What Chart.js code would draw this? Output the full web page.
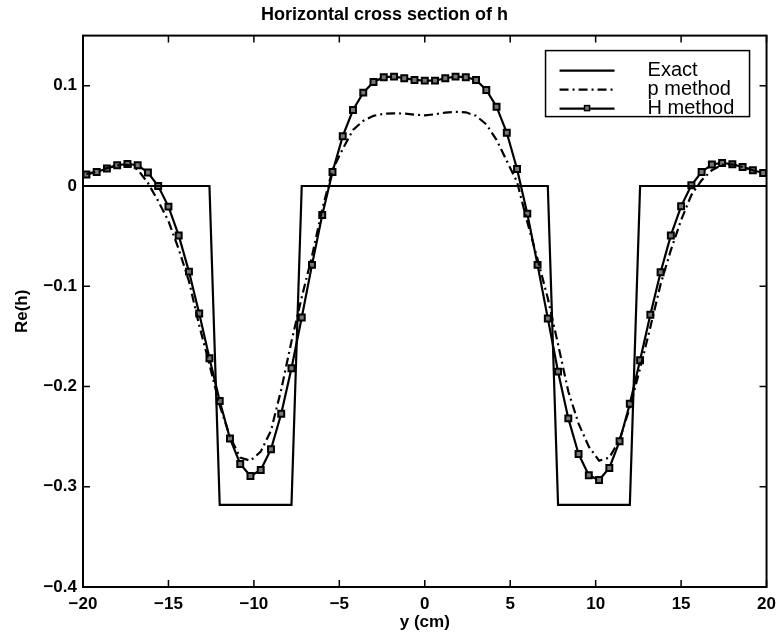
<!DOCTYPE html>
<html>
<head>
<meta charset="utf-8">
<script src="https://cdn.jsdelivr.net/npm/chart.js@4.4.1/dist/chart.umd.min.js"></script>
<style>
  html, body { margin: 0; padding: 0; background: #fff; }
  #wrap { width: 783px; height: 635px; }
</style>
</head>
<body>
<div id="wrap"><canvas id="crossChart"></canvas></div>
<script>
// sample positions of the two computed curves (cm)
const yPos = [-19.8, -19.2, -18.6, -18.0, -17.4, -16.8, -16.2, -15.6, -15.0, -14.4,
  -13.8, -13.2, -12.6, -12.0, -11.4, -10.8, -10.2, -9.6, -9.0, -8.4,
  -7.8, -7.2, -6.6, -6.0, -5.4, -4.8, -4.2, -3.6, -3.0, -2.4,
  -1.8, -1.2, -0.6, 0, 0.6, 1.2, 1.8, 2.4, 3.0, 3.6,
  4.2, 4.8, 5.4, 6.0, 6.6, 7.2, 7.8, 8.4, 9.0, 9.6,
  10.2, 10.8, 11.4, 12.0, 12.6, 13.2, 13.8, 14.4, 15.0, 15.6,
  16.2, 16.8, 17.4, 18.0, 18.6, 19.2, 19.8];

// exact profile (breakpoints)
const exactPos = [-20, -12.6, -12.0, -7.8, -7.2, 7.2, 7.8, 12.0, 12.6, 20];
const exactVal = [0, 0, -0.318, -0.318, 0, 0, -0.318, -0.318, 0, 0];

const pVal = [0.0120, 0.0145, 0.0178, 0.0205, 0.0210, 0.0165, 0.0030, -0.0150, -0.0350, -0.0630,
  -0.0950, -0.1390, -0.1780, -0.2190, -0.2500, -0.2710, -0.2740, -0.2650, -0.2440, -0.2030,
  -0.1550, -0.1110, -0.0700, -0.0230, 0.0160, 0.0370, 0.0560, 0.0650, 0.0700, 0.0720,
  0.0725, 0.0722, 0.0712, 0.0705, 0.0715, 0.0732, 0.0740, 0.0735, 0.0700, 0.0615,
  0.0460, 0.0250, 0.0040, -0.0360, -0.0730, -0.1120, -0.1580, -0.2050, -0.2370, -0.2600,
  -0.2740, -0.2710, -0.2530, -0.2210, -0.1820, -0.1410, -0.0980, -0.0640, -0.0340, -0.0090,
  0.0057, 0.0157, 0.0210, 0.0215, 0.0190, 0.0157, 0.0130];

const hVal = [0.0114, 0.0140, 0.0174, 0.0207, 0.0220, 0.0207, 0.0134, 0.0000, -0.0206, -0.0493,
  -0.0854, -0.1271, -0.1718, -0.2145, -0.2518, -0.2773, -0.2893, -0.2833, -0.2626, -0.2272,
  -0.1818, -0.1311, -0.0787, -0.0290, 0.0140, 0.0497, 0.0758, 0.0931, 0.1038, 0.1085,
  0.1091, 0.1075, 0.1058, 0.1051, 0.1051, 0.1075, 0.1091, 0.1085, 0.1058, 0.0958,
  0.0791, 0.0531, 0.0170, -0.0276, -0.0787, -0.1321, -0.1852, -0.2318, -0.2673, -0.2886,
  -0.2933, -0.2813, -0.2546, -0.2172, -0.1738, -0.1284, -0.0861, -0.0493, -0.0203, 0.0007,
  0.0140, 0.0214, 0.0230, 0.0217, 0.0190, 0.0157, 0.0130];

const xTicks = [-20, -15, -10, -5, 0, 5, 10, 15, 20];
const yTicks = [-0.4, -0.3, -0.2, -0.1, 0, 0.1];

const FONT = "'Liberation Sans', Arial, Helvetica, sans-serif";

function pairs(xs, ys) {
    return xs.map((x, i) => ({ x: x, y: ys[i] }));
}
function minus(v) {
    return String(v).replace('-', '\u2212');
}

// box + inward ticks on all four sides
const framePlugin = {
    id: 'frame',
    afterDatasetsDraw(chart) {
        const { ctx, chartArea: a, scales: { x, y } } = chart;
        ctx.save();
        ctx.strokeStyle = '#000';
        ctx.lineWidth = 2;
        ctx.strokeRect(a.left, a.top, a.right - a.left, a.bottom - a.top);
        ctx.lineWidth = 1.5;
        ctx.beginPath();
        xTicks.forEach(v => {
            const px = x.getPixelForValue(v);
            ctx.moveTo(px, a.bottom); ctx.lineTo(px, a.bottom - 7);
            ctx.moveTo(px, a.top); ctx.lineTo(px, a.top + 7);
        });
        yTicks.forEach(v => {
            const py = y.getPixelForValue(v);
            ctx.moveTo(a.left, py); ctx.lineTo(a.left + 7, py);
            ctx.moveTo(a.right, py); ctx.lineTo(a.right - 7, py);
        });
        ctx.stroke();
        ctx.restore();
    }
};

// matlab style legend box in the top right corner
const legendPlugin = {
    id: 'boxLegend',
    afterDraw(chart) {
        const { ctx, chartArea: a } = chart;
        const left = a.right - 221, top = a.top + 15, w = 204, h = 66;
        ctx.save();
        ctx.fillStyle = '#fff';
        ctx.fillRect(left, top, w, h);
        ctx.strokeStyle = '#000';
        ctx.lineWidth = 1.5;
        ctx.strokeRect(left, top, w, h);
        ctx.font = '20px ' + FONT;
        ctx.fillStyle = '#000';
        ctx.textBaseline = 'middle';
        chart.data.datasets.forEach((ds, i) => {
            const ry = top + 20 + i * 19;
            ctx.lineWidth = ds.borderWidth;
            ctx.setLineDash(ds.borderDash || []);
            ctx.beginPath();
            ctx.moveTo(left + 14, ry);
            ctx.lineTo(left + 69, ry);
            ctx.stroke();
            ctx.setLineDash([]);
            if (ds.pointRadius > 0) {
                ctx.fillStyle = '#777';
                ctx.lineWidth = 1.5;
                ctx.fillRect(left + 39, ry - 3, 5, 5);
                ctx.strokeRect(left + 39, ry - 3, 5, 5);
                ctx.fillStyle = '#000';
            }
            ctx.fillText(ds.label, left + 102, ry);
        });
        ctx.restore();
    }
};

const crossChart = new Chart(document.getElementById('crossChart'), {
    type: 'scatter',
    data: {
        datasets: [{
            label: 'Exact',
            data: pairs(exactPos, exactVal),
            showLine: true,
            borderColor: '#000',
            borderWidth: 2.2,
            pointRadius: 0
        }, {
            label: 'p method',
            data: pairs(yPos, pVal),
            showLine: true,
            borderColor: '#000',
            borderWidth: 2.2,
            borderDash: [9, 4, 2, 4],
            pointRadius: 0
        }, {
            label: 'H method',
            data: pairs(yPos, hVal),
            showLine: true,
            borderColor: '#000',
            borderWidth: 2.2,
            pointStyle: 'rect',
            pointRadius: 4.2,
            pointBorderWidth: 2,
            pointBackgroundColor: '#777',
            pointBorderColor: '#000'
        }]
    },
    options: {
        responsive: true,
        maintainAspectRatio: false,
        animation: false,
        layout: { padding: { right: 14 } },
        plugins: {
            legend: { display: false },
            tooltip: { enabled: false },
            title: {
                display: true,
                text: 'Horizontal cross section of h',
                color: '#000',
                font: { family: FONT, size: 18, weight: 'bold' },
                padding: { top: 4, bottom: 10 }
            }
        },
        scales: {
            x: {
                type: 'linear',
                min: -20,
                max: 20,
                afterBuildTicks: s => { s.ticks = xTicks.map(v => ({ value: v })); },
                afterFit: s => { s.height = 48; },
                grid: { display: false, drawTicks: false },
                border: { display: false },
                ticks: {
                    color: '#000',
                    autoSkip: false,
                    maxRotation: 0,
                    padding: 7,
                    font: { family: FONT, size: 17, weight: 'bold' },
                    callback: v => minus(v)
                },
                title: {
                    display: true,
                    text: 'y (cm)',
                    color: '#000',
                    font: { family: FONT, size: 17, weight: 'bold' },
                    padding: { top: 0, bottom: 2 }
                }
            },
            y: {
                min: -0.4,
                max: 0.15,
                afterBuildTicks: s => { s.ticks = yTicks.map(v => ({ value: v })); },
                afterFit: s => { s.width = 83; },
                grid: { display: false, drawTicks: false },
                border: { display: false },
                ticks: {
                    color: '#000',
                    padding: 6,
                    font: { family: FONT, size: 17, weight: 'bold' },
                    callback: v => minus(v)
                },
                title: {
                    display: true,
                    text: 'Re(h)',
                    color: '#000',
                    font: { family: FONT, size: 17, weight: 'bold' },
                    padding: { top: 12, bottom: 0 }
                }
            }
        }
    },
    plugins: [framePlugin, legendPlugin]
});
</script>
</body>
</html>
